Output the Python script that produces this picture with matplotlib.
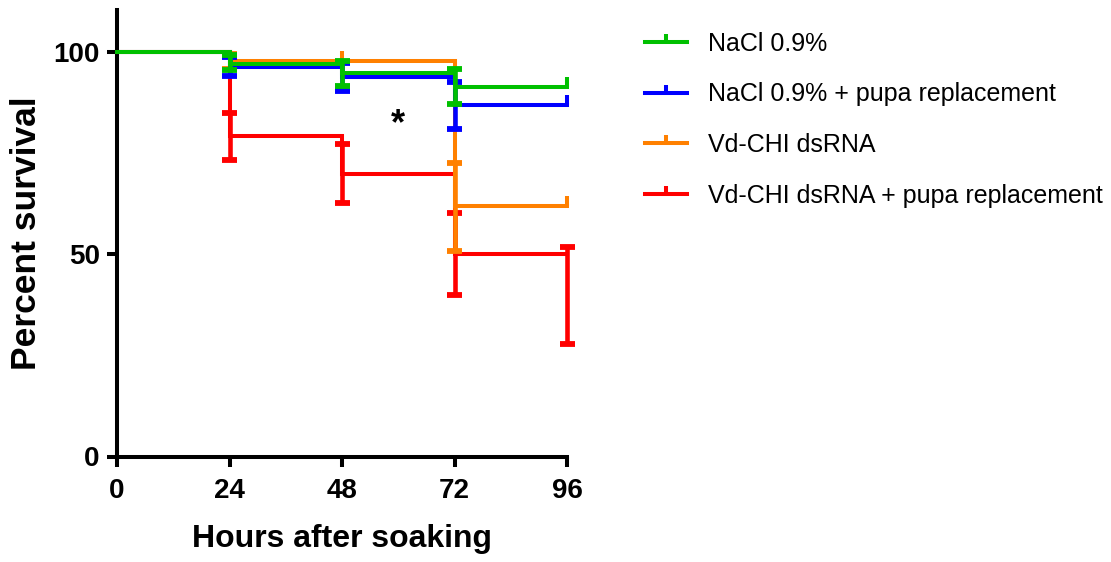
import matplotlib
matplotlib.use("Agg")
import matplotlib.pyplot as plt
from matplotlib.lines import Line2D

BOLD = "Liberation Sans"
REG = "Liberation Sans"

times = [0, 24, 48, 72, 96]
labels = ["NaCl 0.9%", "NaCl 0.9% + pupa replacement", "Vd-CHI dsRNA",
          "Vd-CHI dsRNA + pupa replacement"]
colors = ["#00C000", "#0000FF", "#FF8000", "#FF0000"]

green = [100, 97.0, 94.7, 91.4, 91.4]
blue = [100, 96.4, 93.9, 86.9, 86.9]
orange = [100, 97.7, 97.7, 61.9, 61.9]
red = [100, 79.2, 69.8, 50.0, 50.0]

# error bars: times, lower, upper
green_err_t = [24, 48, 72]
green_lo = [95.6, 91.7, 87.1]
green_hi = [99.3, 97.8, 95.7]
blue_err_t = [24, 48, 72]
blue_lo = [94.1, 90.4, 81.0]
blue_hi = [98.7, 97.4, 92.6]
orange_err_t = [24, 72]
orange_lo = [95.7, 50.8]
orange_hi = [99.5, 72.6]
red_err_t = [24, 48, 72, 96]
red_lo = [73.3, 62.7, 40.0, 27.9]
red_hi = [85.0, 77.2, 60.1, 51.7]

# censored tick marks
green_cens_t = [96]
blue_cens_t = [96]
orange_cens_t = [48, 96]
red_cens_t = []

series = [
    (red, red_err_t, red_lo, red_hi, red_cens_t, colors[3]),
    (orange, orange_err_t, orange_lo, orange_hi, orange_cens_t, colors[2]),
    (blue, blue_err_t, blue_lo, blue_hi, blue_cens_t, colors[1]),
    (green, green_err_t, green_lo, green_hi, green_cens_t, colors[0]),
]

fig = plt.figure(figsize=(11.11, 5.62), dpi=100)
ax = fig.add_axes([117 / 1111, 1 - 456.5 / 562, 450 / 1111, 446.5 / 562])

def value_at(vals, t):
    idx = max(i for i, tt in enumerate(times) if tt <= t)
    return vals[idx]

z = 3
for vals, et, lo, hi, ct, c in series:
    ax.step(times, vals, where="post", color=c, lw=2.9, zorder=z,
            solid_joinstyle="miter", clip_on=False)
    ax.vlines(et, lo, hi, color=c, lw=3.3, zorder=z, clip_on=False)
    for t, l, h in zip(et, lo, hi):
        ax.plot([t - 1.6, t + 1.6], [l, l], color=c, lw=4.2,
                solid_capstyle="butt", zorder=z, clip_on=False)
        ax.plot([t - 1.6, t + 1.6], [h, h], color=c, lw=4.2,
                solid_capstyle="butt", zorder=z, clip_on=False)
    if ct:
        ax.plot(ct, [value_at(vals, t) for t in ct], linestyle="none",
                marker=2, markersize=7, mew=2.9, color=c, zorder=z, clip_on=False)
    z += 0.1

ax.set_xlim(0, 96)
ax.set_ylim(0, 110.4)
ax.set_xticks([0, 24, 48, 72, 96])
ax.set_yticks([0, 50, 100])
for s in ["top", "right"]:
    ax.spines[s].set_visible(False)
for s in ["left", "bottom"]:
    ax.spines[s].set_linewidth(2.9)
ax.tick_params(axis="both", width=2.9, length=7.5, direction="out", pad=5,
               labelsize=20)
ax.tick_params(axis="x", pad=8)
for lab in ax.get_xticklabels() + ax.get_yticklabels():
    lab.set_fontfamily(BOLD)
    lab.set_fontweight("bold")

ax.set_xlabel("Hours after soaking", fontsize=23, fontweight="bold",
              fontfamily=BOLD)
ax.set_ylabel("Percent survival", fontsize=25.5, fontweight="bold",
              fontfamily=BOLD)
ax.xaxis.set_label_coords(0.5, (456.5 - 524) / 446.5)
ax.yaxis.set_label_coords((43 - 117) / 450, 0.5)

ax.text(60, 82.0, "*", fontsize=26, fontweight="bold", ha="center",
        va="center", fontfamily=REG)

handles = [Line2D([], [], color=c, lw=2.9, marker=2, markersize=6, mew=2.9)
           for c in colors]
leg = fig.legend(handles, labels, loc="upper left",
                 bbox_to_anchor=(622 / 1111, 1 - 9.5 / 562), frameon=False,
                 numpoints=1, handlelength=1.68, handletextpad=0.88,
                 labelspacing=1.06, prop={"family": REG, "size": 18})

fig.savefig("out.png", dpi=100)
